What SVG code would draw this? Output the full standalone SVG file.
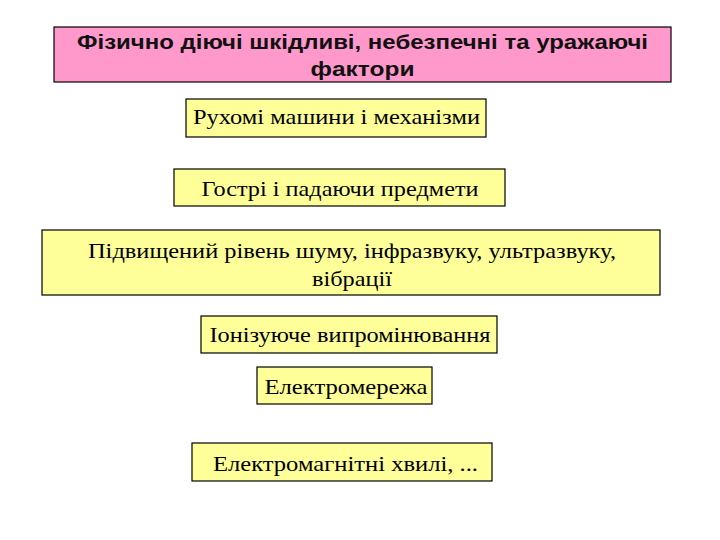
<svg xmlns="http://www.w3.org/2000/svg" width="720" height="540" viewBox="0 0 720 540">
<style>
.box{fill:#ffff99;stroke:#000;stroke-width:1.2}
.head{fill:#ff99cc;stroke:#000;stroke-width:1.2}
.t{font-family:"Liberation Serif","Times New Roman",serif;font-size:22px;fill:#000;text-anchor:middle}
.h{font-family:"Liberation Sans",Arial,sans-serif;font-size:20px;font-weight:bold;fill:#111;text-anchor:middle}
</style>
<rect width="720" height="540" fill="#fff"/>
<g id="title">
<rect class="head" x="54" y="27" width="617" height="55"/>
<text class="h" x="362.5" y="49" textLength="571" lengthAdjust="spacingAndGlyphs">Фізично діючі шкідливі, небезпечні та уражаючі</text>
<text class="h" x="362.5" y="76" textLength="104" lengthAdjust="spacingAndGlyphs">фактори</text>
</g>
<g id="n1">
<rect class="box" x="186" y="99" width="300" height="38"/>
<text class="t" x="336.5" y="124" textLength="287" lengthAdjust="spacingAndGlyphs">Рухомі машини і механізми</text>
</g>
<g id="n2">
<rect class="box" x="174" y="169" width="331" height="37"/>
<text class="t" x="340" y="196" textLength="277" lengthAdjust="spacingAndGlyphs">Гострі і падаючи предмети</text>
</g>
<g id="n3">
<rect class="box" x="42" y="230" width="618" height="65"/>
<text class="t" x="352" y="258" textLength="528" lengthAdjust="spacingAndGlyphs">Підвищений рівень шуму, інфразвуку, ультразвуку,</text>
<text class="t" x="352" y="286" textLength="80" lengthAdjust="spacingAndGlyphs">вібрації</text>
</g>
<g id="n4">
<rect class="box" x="201" y="316" width="296" height="37"/>
<text class="t" x="350" y="342" textLength="281" lengthAdjust="spacingAndGlyphs">Іонізуюче випромінювання</text>
</g>
<g id="n5">
<rect class="box" x="257" y="367" width="175" height="37"/>
<text class="t" x="346" y="394" textLength="163" lengthAdjust="spacingAndGlyphs">Електромережа</text>
</g>
<g id="n6">
<rect class="box" x="192" y="443" width="300" height="38"/>
<text class="t" x="345.5" y="471" textLength="265" lengthAdjust="spacingAndGlyphs">Електромагнітні хвилі, ...</text>
</g>
<g id="connectors"></g>
</svg>
